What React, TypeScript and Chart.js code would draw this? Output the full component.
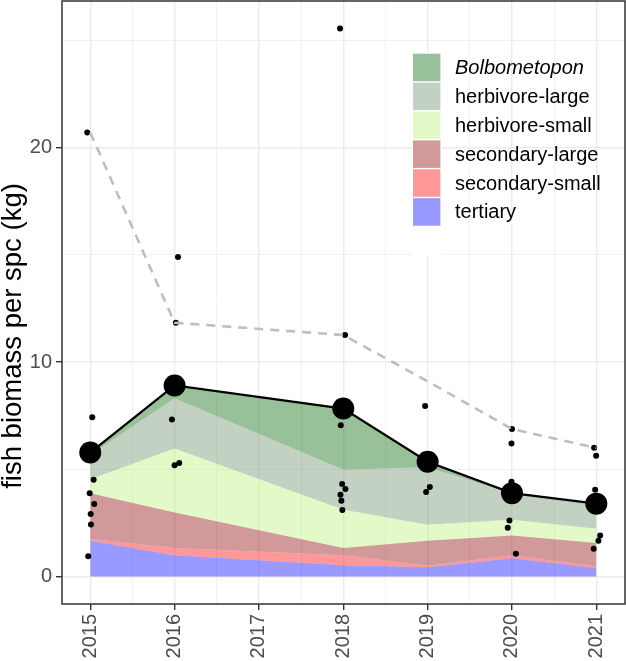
import React, { useEffect, useRef } from "react";
import { Chart, registerables } from "chart.js";

Chart.register(...registerables);

// ---------- data ----------
const YEARS = [2015, 2016, 2018, 2019, 2020, 2021];

const GROUPS = [
  "tertiary",
  "secondary-small",
  "secondary-large",
  "herbivore-small",
  "herbivore-large",
  "Bolbometopon",
];

// biomass per group (kg), stacked bottom -> top
const TERTIARY = [1.67, 0.99, 0.53, 0.43, 0.85, 0.4];
const SECONDARY_SMALL = [0.08, 0.34, 0.46, 0.08, 0.14, 0.07];
const SECONDARY_LARGE = [2.14, 1.66, 0.34, 1.16, 0.93, 1.1];
const HERBIVORE_SMALL = [0.65, 2.98, 1.79, 0.75, 0.73, 0.66];
const HERBIVORE_LARGE = [1.13, 2.34, 1.86, 2.68, 1.24, 1.17];
const BOLBOMETOPON = [0.11, 0.6, 2.85, 0.25, 0.0, 0.0];

// total (black line with big points)
const TOTAL = [5.78, 8.91, 7.83, 5.35, 3.89, 3.4];
// dashed grey line
const DASHED = [20.7, 11.83, 11.26, 9.1, 6.88, 6.0];

// individual site values (jittered x)
const SITE_X = [
  2014.964, 2015.024, 2015.04, 2014.993, 2015.047, 2015.005, 2015.008, 2014.976,
  2016.04, 2016.015, 2015.968, 2016.0, 2016.055,
  2017.962, 2018.021, 2017.97, 2017.986, 2018.025, 2017.966, 2017.977, 2017.989,
  2018.97, 2019.026, 2018.982,
  2020.0, 2019.994, 2019.994, 2019.97, 2019.95, 2020.046,
  2020.974, 2020.998, 2020.986, 2021.045, 2021.025, 2020.969,
];
const SITE_Y = [
  20.7, 7.43, 4.51, 3.88, 3.38, 2.92, 2.43, 0.95,
  14.9, 11.83, 7.32, 5.19, 5.3,
  25.55, 11.26, 7.05, 4.31, 4.08, 3.81, 3.53, 3.1,
  7.95, 4.17, 3.94,
  6.88, 6.2, 4.42, 2.62, 2.28, 1.06,
  6.0, 5.63, 4.05, 1.92, 1.67, 1.3,
];

// axes
const X_TICKS = [2015, 2015.5, 2016, 2016.5, 2017, 2017.5, 2018, 2018.5, 2019, 2019.5, 2020, 2020.5, 2021];
const X_LABELS = ["2015", "2016", "2017", "2018", "2019", "2020", "2021"];
const Y_TICKS = [0, 5, 10, 15, 20, 25];
const Y_LABELS = ["0", "10", "20"];
const X_MIN = 2014.665;
const X_MAX = 2021.34;
const Y_MIN = -1.2775;
const Y_MAX = 26.8275;
const Y_TITLE = "fish biomass per spc (kg)";

// ---------- styles ----------
const GROUP_COLORS = [
  "rgba(0,0,255,0.4)",
  "rgba(255,0,0,0.4)",
  "rgba(139,0,0,0.4)",
  "rgba(185,240,115,0.4)",
  "rgba(105,139,105,0.4)",
  "rgba(0,100,0,0.4)",
];
const FONT = "'Liberation Sans', Arial, Helvetica, sans-serif";

const isMajor = (v: number) => Math.abs(v - Math.round(v)) < 1e-9;

export default function App() {
  const ref = useRef<HTMLCanvasElement | null>(null);

  useEffect(() => {
    document.body.style.margin = "0";
    document.body.style.overflow = "hidden";
    const canvas = ref.current;
    if (!canvas) return;

    const groupValues = [
      TERTIARY,
      SECONDARY_SMALL,
      SECONDARY_LARGE,
      HERBIVORE_SMALL,
      HERBIVORE_LARGE,
      BOLBOMETOPON,
    ];
    const cum: number[][] = [];
    groupValues.forEach((arr, gi) => {
      cum.push(arr.map((v, i) => v + (gi > 0 ? cum[gi - 1][i] : 0)));
    });

    const areaSets = GROUPS.map((g, gi) => ({
      type: "line" as const,
      label: g,
      data: YEARS.map((x, i) => ({ x, y: cum[gi][i] })),
      fill: gi === 0 ? "origin" : "-1",
      backgroundColor: GROUP_COLORS[gi],
      borderWidth: 0,
      borderColor: "rgba(0,0,0,0)",
      pointRadius: 0,
      tension: 0,
      order: 10 + gi,
    }));

    const isMajorLabel = (v: number, labels: string[]) =>
      labels.indexOf(String(v)) >= 0;

    const legendPlugin = {
      id: "panelAndLegend",
      afterDatasetsDraw(chart: any) {
        const { ctx, chartArea } = chart;
        ctx.save();
        ctx.strokeStyle = "#333333";
        ctx.lineWidth = 1.5;
        ctx.strokeRect(
          chartArea.left,
          chartArea.top,
          chartArea.right - chartArea.left,
          chartArea.bottom - chartArea.top
        );
        ctx.restore();
      },
      afterDraw(chart: any) {
        const { ctx } = chart;
        ctx.save();
        // y axis title
        ctx.translate(13, 336);
        ctx.rotate(-Math.PI / 2);
        ctx.fillStyle = "#000000";
        ctx.font = "27.5px " + FONT;
        ctx.textAlign = "center";
        ctx.textBaseline = "middle";
        ctx.fillText(Y_TITLE, 0, 0);
        ctx.restore();

        ctx.save();
        const keyX = 413;
        const keyW = 28;
        const keyH = 28.9;
        const top0 = 53;
        const order = [5, 4, 3, 2, 1, 0];
        // white key backgrounds (incl. a blank key below)
        ctx.fillStyle = "#FFFFFF";
        ctx.fillRect(keyX - 1, top0 - 0.5, keyW + 2, keyH * 6 + 31);
        order.forEach((gi, k) => {
          const y = top0 + k * keyH;
          ctx.fillStyle = GROUP_COLORS[gi];
          ctx.fillRect(keyX, y + 0.7, keyW - 0.6, keyH - 1.4);
          ctx.fillStyle = "#000000";
          ctx.font = (gi === 5 ? "italic " : "") + "20px " + FONT;
          ctx.textBaseline = "middle";
          ctx.textAlign = "left";
          ctx.fillText(GROUPS[gi], 455, y + keyH / 2 + 1);
        });
        ctx.restore();
      },
    };

    const chart = new Chart(canvas, {
      type: "line",
      data: {
        datasets: [
          ...areaSets,
          {
            type: "line" as const,
            label: "dashed",
            data: YEARS.map((x, i) => ({ x, y: DASHED[i] })),
            borderColor: "#BEBEBE",
            borderWidth: 2.6,
            borderDash: [9, 7],
            pointRadius: 0,
            fill: false,
            order: 0,
          },
          {
            type: "line" as const,
            label: "sites",
            data: SITE_X.map((x, i) => ({ x, y: SITE_Y[i] })),
            showLine: false,
            pointRadius: 3,
            pointBackgroundColor: "#000000",
            pointBorderWidth: 0,
            fill: false,
            order: 1,
          },
          {
            type: "line" as const,
            label: "total",
            data: YEARS.map((x, i) => ({ x, y: TOTAL[i] })),
            borderColor: "#000000",
            borderWidth: 2.3,
            pointRadius: 11,
            pointBackgroundColor: "#000000",
            pointBorderWidth: 0,
            fill: false,
            order: 2,
          },
        ] as any,
      },
      options: {
        responsive: false,
        devicePixelRatio: 1,
        animation: false,
        layout: { autoPadding: false, padding: { top: 1, right: 1, left: 0, bottom: 0 } },
        plugins: {
          legend: { display: false },
          tooltip: { enabled: false },
        },
        scales: {
          x: {
            type: "linear",
            min: X_MIN,
            max: X_MAX,
            afterBuildTicks: (s: any) => {
              s.ticks = X_TICKS.map((v) => ({ value: v }));
            },
            afterFit: (s: any) => {
              s.height = 57;
              s.paddingLeft = 0;
              s.paddingRight = 0;
            },
            border: { display: false },
            grid: {
              color: (c: any) => "#EBEBEB",
              lineWidth: (c: any) => (c.tick && isMajor(c.tick.value) ? 1.4 : 0.7),
              tickColor: (c: any) =>
                c.tick && isMajor(c.tick.value) ? "#333333" : "rgba(0,0,0,0)",
              tickWidth: 1.4,
              tickLength: 6,
              drawTicks: true,
            },
            ticks: {
              autoSkip: false,
              maxRotation: 90,
              minRotation: 90,
              padding: 4,
              color: "#4D4D4D",
              font: { size: 20, family: FONT },
              callback: (v: any) => (isMajorLabel(v, X_LABELS) ? String(v) : ""),
            },
          },
          y: {
            type: "linear",
            min: Y_MIN,
            max: Y_MAX,
            afterBuildTicks: (s: any) => {
              s.ticks = Y_TICKS.map((v) => ({ value: v }));
            },
            afterFit: (s: any) => {
              s.width = 62;
              s.paddingTop = 0;
              s.paddingBottom = 0;
            },
            border: { display: false },
            grid: {
              color: (c: any) => "#EBEBEB",
              lineWidth: (c: any) =>
                c.tick && Y_LABELS.indexOf(String(c.tick.value)) >= 0 ? 1.4 : 0.7,
              tickColor: (c: any) =>
                c.tick && Y_LABELS.indexOf(String(c.tick.value)) >= 0
                  ? "#333333"
                  : "rgba(0,0,0,0)",
              tickWidth: 1.4,
              tickLength: 6,
              drawTicks: true,
            },
            ticks: {
              autoSkip: false,
              padding: 4,
              color: "#4D4D4D",
              font: { size: 20, family: FONT },
              callback: (v: any) => (isMajorLabel(v, Y_LABELS) ? String(v) : ""),
            },
            title: { display: false },
          },
        },
      } as any,
      plugins: [legendPlugin],
    });

    return () => chart.destroy();
  }, []);

  return (
    <canvas
      ref={ref}
      width={626}
      height={661}
      style={{ display: "block", width: 626, height: 661 }}
    />
  );
}
